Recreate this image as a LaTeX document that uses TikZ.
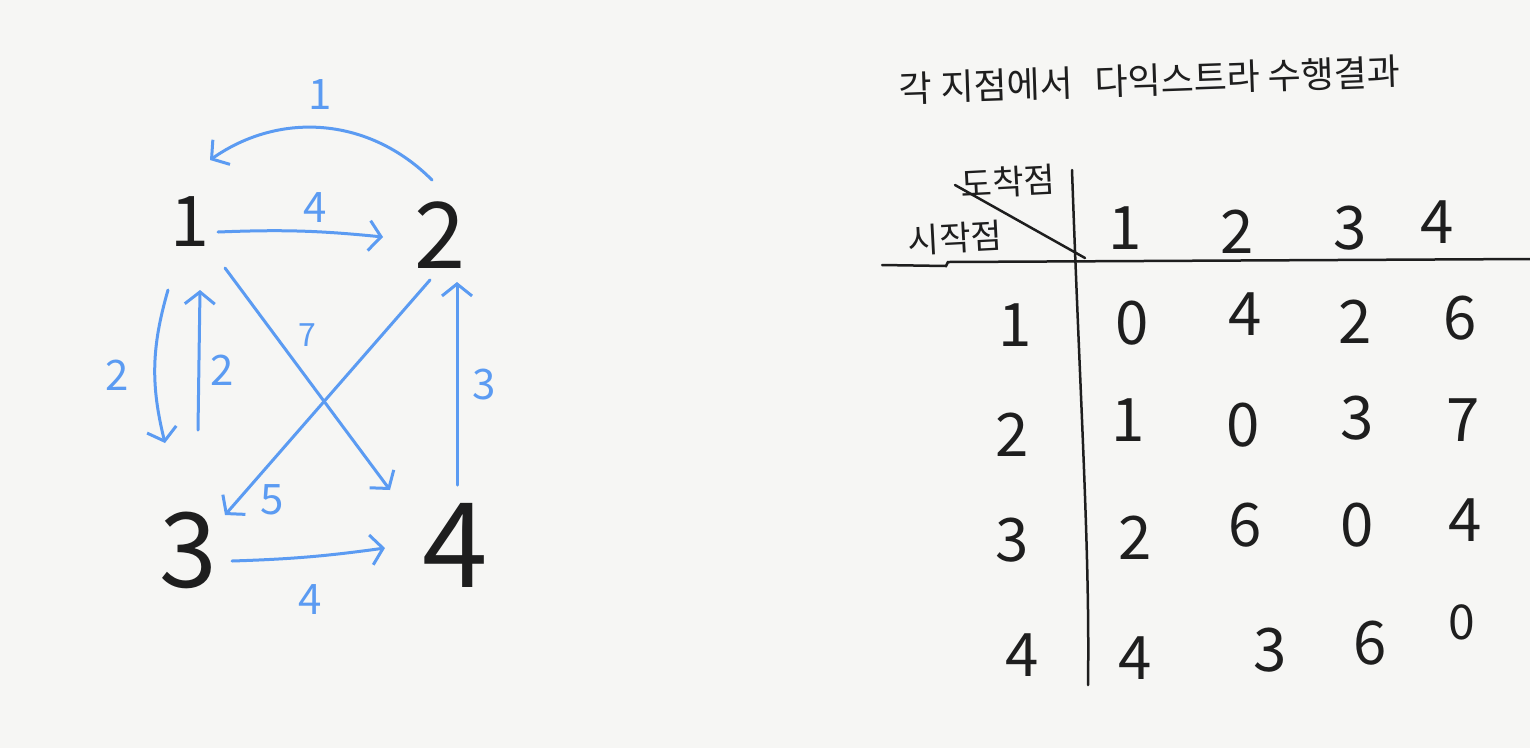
\documentclass[tikz,border=0pt]{standalone}
\usepackage{fontspec}
\setmainfont{Noto Sans CJK KR}
\usetikzlibrary{arrows.meta}
\definecolor{paper}{HTML}{F6F6F4}
\definecolor{pen}{HTML}{5B9BF2}
\definecolor{ink}{HTML}{1E1E1E}
\begin{document}
\begin{tikzpicture}[x=1pt,y=-1pt,
  vtx/.style={text=ink, inner sep=0pt},
  edge/.style={draw=pen, line width=3pt, line cap=round,
    -{Straight Barb[length=12pt,width=30pt,line width=3pt]}},
  wlabel/.style={text=pen, inner sep=0pt, font=\fontsize{42}{42}\selectfont},
  cell/.style={text=ink, inner sep=0pt, font=\fontsize{60}{60}\selectfont},
  head/.style={text=ink, inner sep=0pt, font=\fontsize{34}{34}\selectfont},
  rulel/.style={draw=ink, line width=2.5pt, line cap=round}]
\fill[paper] (0,0) rectangle (1530,748);
\useasboundingbox (0,0) rectangle (1530,748);

% ---------- graph ----------
\node[vtx, font=\fontsize{70}{70}\selectfont] (n1) at (190,222) {1};
\node[vtx, font=\fontsize{92}{92}\selectfont] (n2) at (440,235) {2};
\node[vtx, font=\fontsize{104}{104}\selectfont] (n3) at (188,550) {3};
\node[vtx, font=\fontsize{118}{118}\selectfont] (n4) at (455,545) {4};

\draw[edge] ([shift={(-8,-55)}]n2.center) to[bend right=40] ([shift={(20,-62)}]n1.center);
\draw[edge] ([shift={(28,10)}]n1.center) to[bend left=4] ([shift={(-57,2)}]n2.center);
\draw[edge] ([shift={(-22,68)}]n1.center) to[bend right=15] ([shift={(-23,-107)}]n3.center);
\draw[edge] ([shift={(10,-120)}]n3.center) -- ([shift={(10,68)}]n1.center);
\draw[edge] ([shift={(35,46)}]n1.center) -- ([shift={(-65,-55)}]n4.center);
\draw[edge] ([shift={(-10,45)}]n2.center) -- ([shift={(37,-35)}]n3.center);
\draw[edge] ([shift={(2,-60)}]n4.center) -- ([shift={(17,47)}]n2.center);
\draw[edge] ([shift={(44,11)}]n3.center) to[bend right=3] ([shift={(-70,3)}]n4.center);

\node[wlabel] (w21) at (320,95) {1};
\node[wlabel] (w12) at (315,208) {4};
\node[wlabel] (w13) at (117,375) {2};
\node[wlabel] (w31) at (222,370) {2};
\node[wlabel, font=\fontsize{32}{32}\selectfont] (w14) at (307,335) {7};
\node[wlabel] (w23) at (272,500) {5};
\node[wlabel] (w42) at (484,385) {3};
\node[wlabel] (w34) at (310,600) {4};

% ---------- table ----------
\node[text=ink, inner sep=0pt, font=\fontsize{36}{36}\selectfont, rotate=2] (title) at (1150,80)
  {각 지점에서\hspace{0.6em}다익스트라 수행결과};

\draw[rulel] (1072,170) .. controls (1080,400) and (1090,550) .. (1088,685);
\draw[rulel] (882,265) -- (946,266) -- (948,262) -- (1530,259);
\draw[rulel] (955,185) -- (1085,258);
\node[head, rotate=3] (arr) at (1008,182) {도착점};
\node[head, rotate=3] (dep) at (955,238) {시작점};

\node[cell] (c1) at (1125,228) {1};
\node[cell] (c2) at (1237,232) {2};
\node[cell] (c3) at (1350,228) {3};
\node[cell] (c4) at (1437,222) {4};

\node[cell] (r1) at (1015,325) {1};
\node[cell] (r2) at (1012,435) {2};
\node[cell] (r3) at (1012,540) {3};
\node[cell] (r4) at (1022,655) {4};

\node[cell] (v11) at (1132,323) {0};
\node[cell] (v12) at (1245,314) {4};
\node[cell] (v13) at (1355,322) {2};
\node[cell] (v14) at (1460,318) {6};

\node[cell] (v21) at (1128,420) {1};
\node[cell] (v22) at (1243,425) {0};
\node[cell] (v23) at (1357,418) {3};
\node[cell] (v24) at (1463,420) {7};

\node[cell] (v31) at (1135,538) {2};
\node[cell] (v32) at (1245,525) {6};
\node[cell] (v33) at (1357,525) {0};
\node[cell] (v34) at (1465,520) {4};

\node[cell] (v41) at (1135,658) {4};
\node[cell] (v42) at (1270,650) {3};
\node[cell] (v43) at (1370,643) {6};
\node[cell, font=\fontsize{48}{48}\selectfont] (v44) at (1462,622) {0};
\end{tikzpicture}
\end{document}
